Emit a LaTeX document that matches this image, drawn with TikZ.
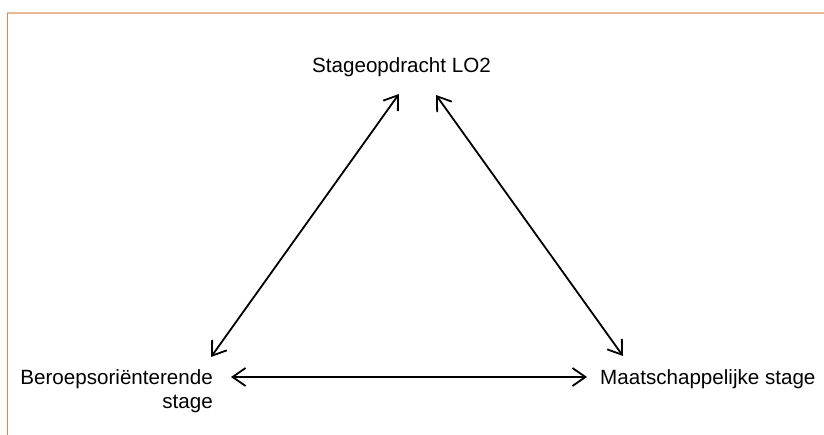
\documentclass[tikz,border=0pt]{standalone}
\usepackage{fontspec}
\setmainfont{Liberation Sans}
\usetikzlibrary{arrows.meta}
\definecolor{topline}{HTML}{E9B996}
\definecolor{leftline}{HTML}{D4895A}
\tikzset{
  lbl/.style={inner sep=0pt, font=\fontsize{20.6}{24.5}\selectfont, text=black},
  link/.style={line width=1.8pt, {Straight Barb[length=13pt,width=18pt,line width=1.8pt]}-{Straight Barb[length=13pt,width=18pt,line width=1.8pt]}}
}
\begin{document}
\begin{tikzpicture}[x=1pt,y=-1pt]
\useasboundingbox (0,0) rectangle (824,435);
\draw[topline, line width=2pt] (7,13) -- (824,13);
\draw[leftline, line width=1pt] (7,13) -- (7,435);

\node[lbl, anchor=base] (top) at (401.5,73) {Stageopdracht LO2};
\node[lbl, anchor=north east, align=right] (left) at (213,369) {Beroepsoriënterende\\stage};
\node[lbl, anchor=base west] (right) at (600,384) {Maatschappelijke stage};

\coordinate (tl) at (399,94);
\coordinate (tr) at (436,95);
\coordinate (bl) at (211,357);
\coordinate (br) at (623,356);
\coordinate (hl) at (231,377);
\coordinate (hr) at (587,377);

\draw[link] (bl) -- (tl);
\draw[link] (tr) -- (br);
\draw[link] (hl) -- (hr);
\end{tikzpicture}
\end{document}
